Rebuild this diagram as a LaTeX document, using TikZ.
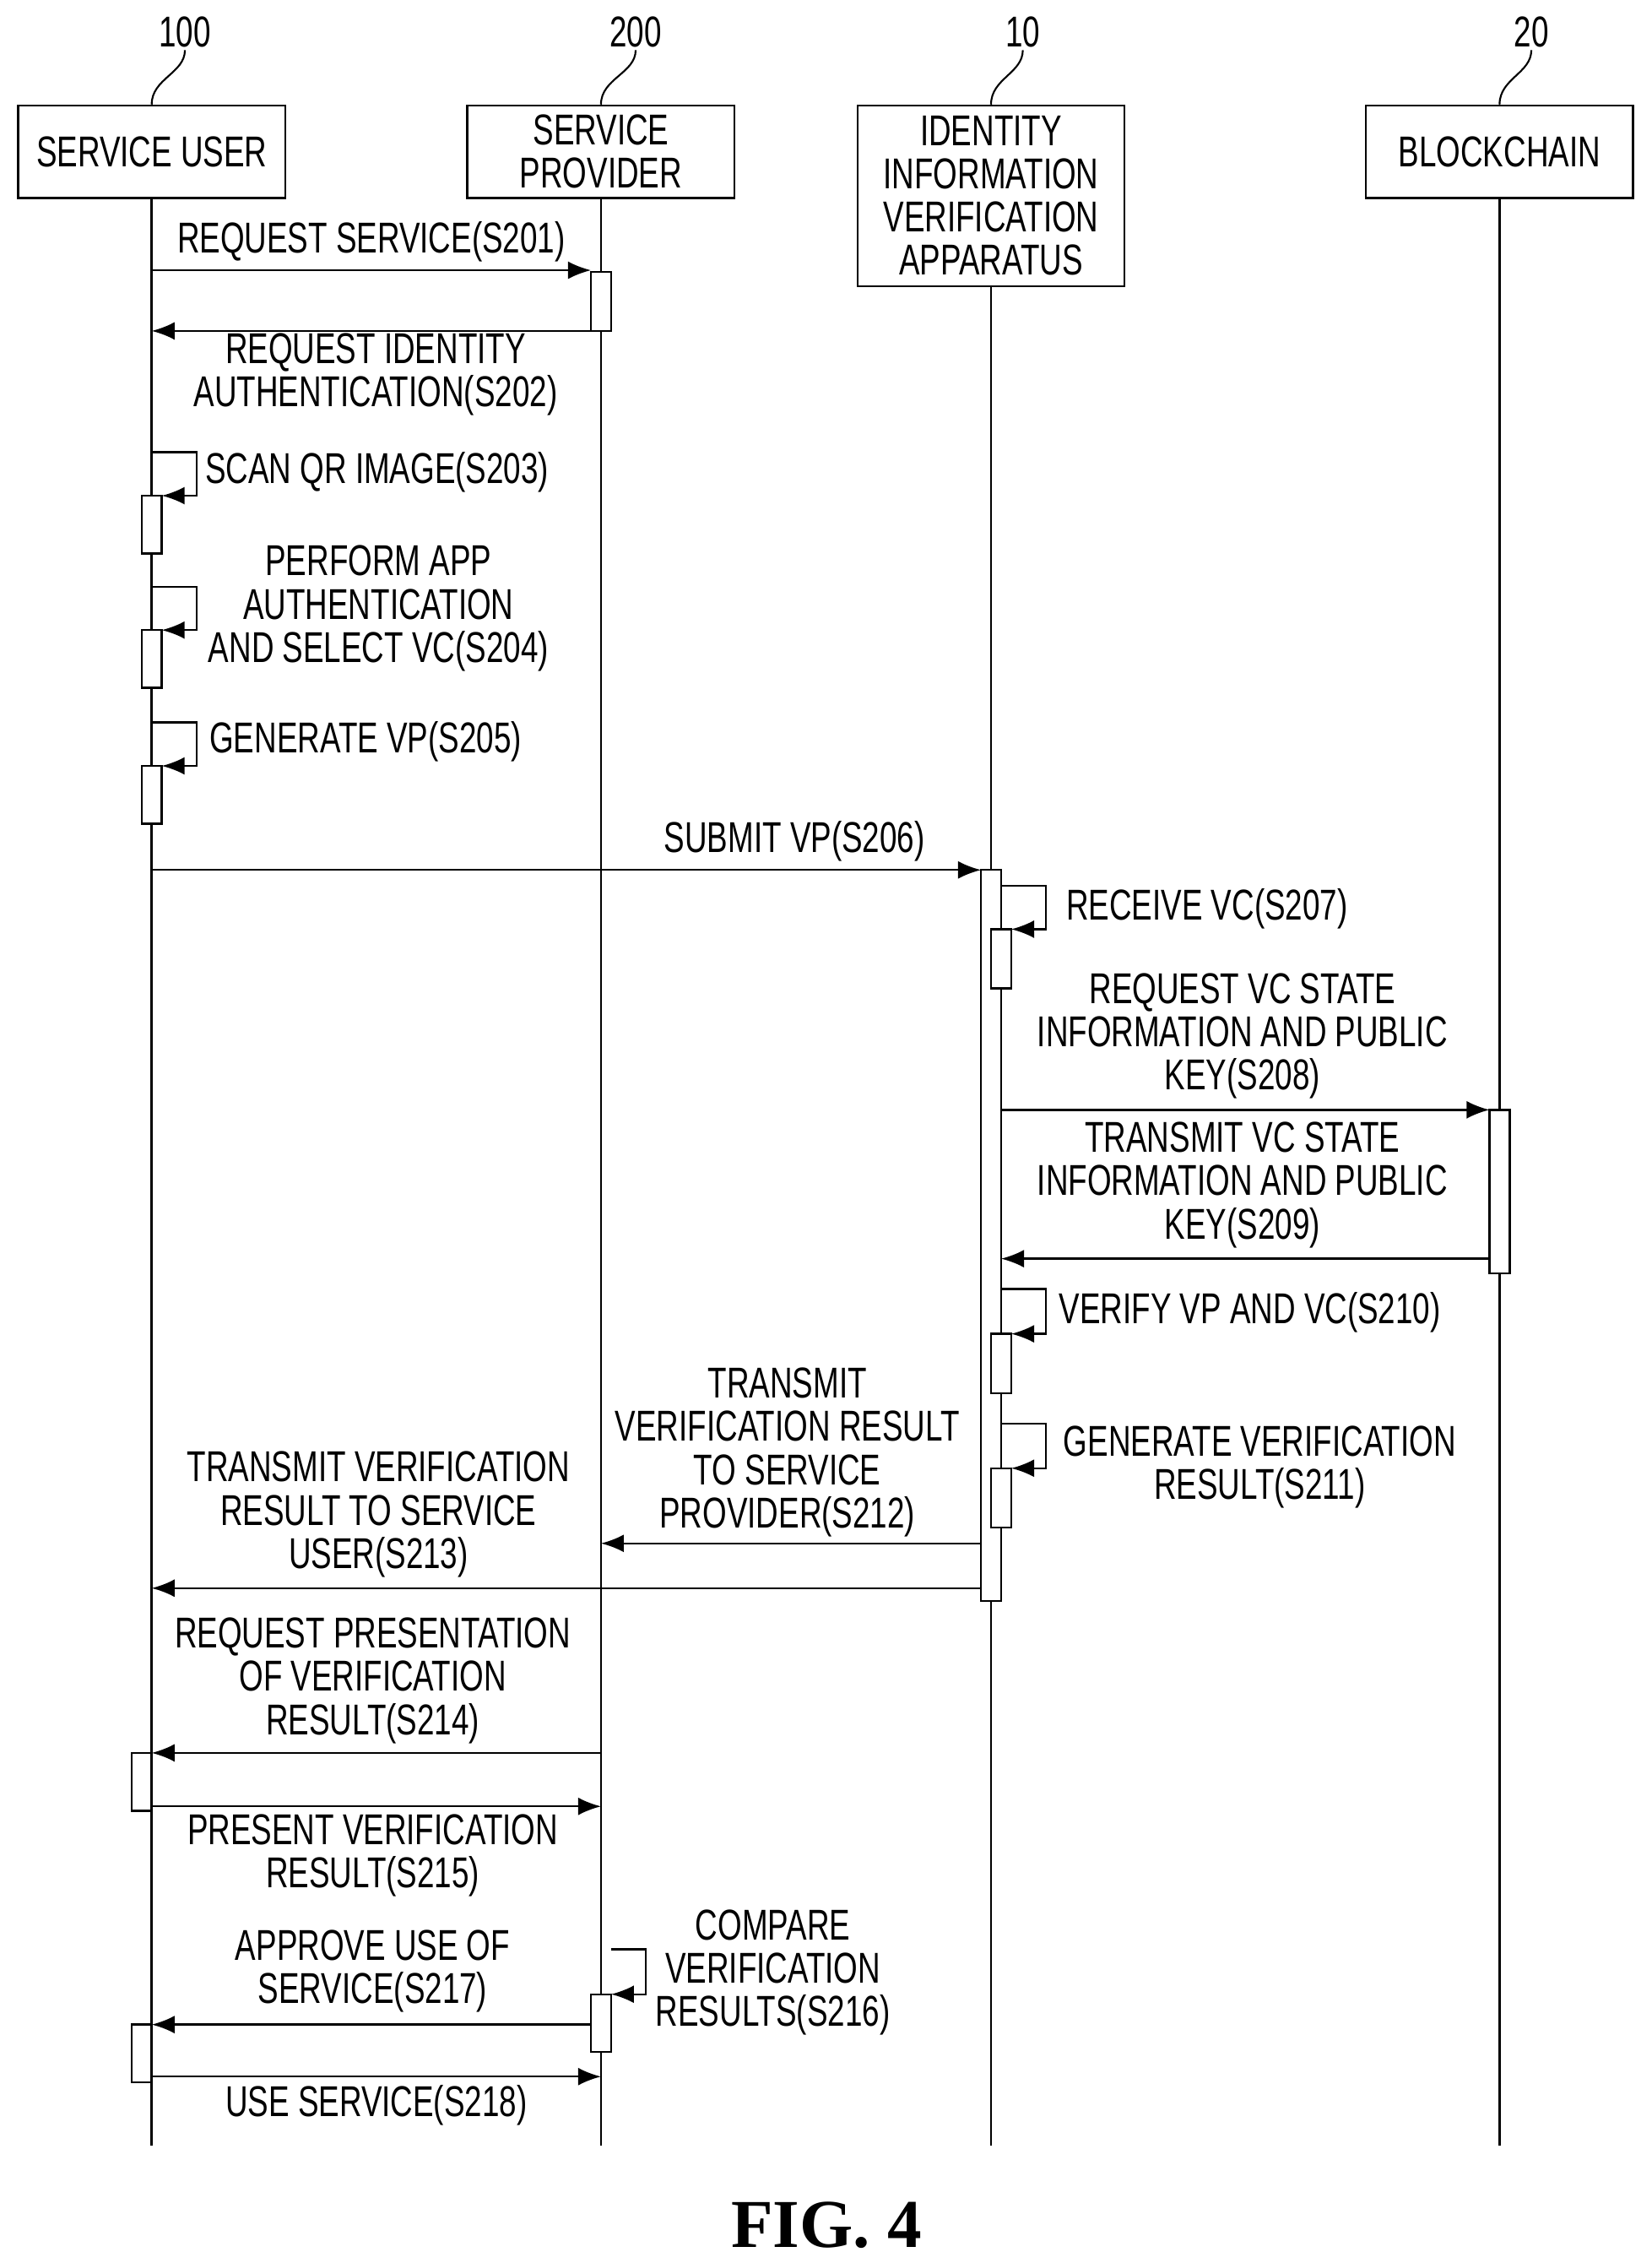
\documentclass[tikz,border=0pt]{standalone}
\usepackage{fontspec}
\setmainfont{Liberation Sans}[FakeStretch=0.72]
\newfontfamily\figfont{Liberation Serif}
\usetikzlibrary{arrows.meta,positioning}
\tikzset{
  actor/.style={draw,line width=0.8pt,minimum width=3.7cm,minimum height=1.28cm,align=center,font=\fontsize{17}{17}\selectfont,inner sep=1pt},
  msg/.style={line width=0.8pt,-{Latex[length=9pt,width=7pt]}},
  lbl/.style={align=center,font=\fontsize{17}{17}\selectfont,inner sep=1pt},
  bar/.style={draw,line width=0.8pt,fill=white},
  life/.style={line width=0.8pt}
}
\begin{document}
\begin{tikzpicture}[x=0.02cm,y=-0.02cm]
    \useasboundingbox (0,0) rectangle (1143,1566);

    %actores
    \node[actor] (u) at (105,105) {SERVICE USER};
    \node[actor] (p) at (416,105) {SERVICE\\PROVIDER};
    \node[actor,minimum height=2.5cm] (a) at (686,135.5) {IDENTITY\\INFORMATION\\VERIFICATION\\APPARATUS};
    \node[actor] (b) at (1038,105) {BLOCKCHAIN};

    %numeros
    \node[lbl] (nu) at (128,22) {100};
    \node[lbl] (np) at (440,22) {200};
    \node[lbl] (na) at (708,22) {10};
    \node[lbl] (nb) at (1060,22) {20};
    \foreach \n/\m in {nu/u,np/p,na/a,nb/b}
        \draw[line width=0.7pt] (\n.south) .. controls ++(0,16) and ++(0,-18) .. (\m.north);

    %lineas de vida
    \foreach \m in {u,p,a,b}{
        \coordinate (\m e) at (\m.south |- 0,1485);
        \draw[life] (\m.south) -- (\m e);
    }

    %barras de activacion
    \draw[bar] (409,188) rectangle (423,229);
    \foreach \y in {343,436,530}
        \draw[bar] (98,\y) rectangle (112,\y+40);
    \draw[bar] (679,602) rectangle (693,1108);
    \foreach \y in {643,923,1016}
        \draw[bar] (686,\y) rectangle (700,\y+41);
    \draw[bar] (1031,768) rectangle (1045,881);
    \draw[bar] (91,1213) rectangle (105,1253);
    \draw[bar] (91,1401) rectangle (105,1441);
    \draw[bar] (409,1380) rectangle (423,1420);

    %mensajes
    \draw[msg] (105,187) -- (409,187) node[lbl,midway,above=2pt] {REQUEST SERVICE(S201)};
    \draw[msg] (409,229) -- (105,229);
    \node[lbl] (s202) at (260,259) {REQUEST IDENTITY\\AUTHENTICATION(S202)};
    \draw[msg] (105,602) -- (679,602) node[lbl,above=2pt] at (550,602) {SUBMIT VP(S206)};
    \draw[msg] (693,768) -- (1031,768);
    \node[lbl] (s208) at (860,717) {REQUEST VC STATE\\INFORMATION AND PUBLIC\\KEY(S208)};
    \draw[msg] (1031,871) -- (693,871);
    \node[lbl] (s209) at (860,820) {TRANSMIT VC STATE\\INFORMATION AND PUBLIC\\KEY(S209)};
    \draw[msg] (679,1068) -- (416,1068);
    \node[lbl] (s212) at (545,1005) {TRANSMIT\\VERIFICATION RESULT\\TO SERVICE\\PROVIDER(S212)};
    \draw[msg] (679,1099) -- (105,1099);
    \node[lbl] (s213) at (262,1048) {TRANSMIT VERIFICATION\\RESULT TO SERVICE\\USER(S213)};
    \draw[msg] (416,1213) -- (105,1213);
    \node[lbl] (s214) at (258,1163) {REQUEST PRESENTATION\\OF VERIFICATION\\RESULT(S214)};
    \draw[msg] (105,1250) -- (416,1250);
    \node[lbl] (s215) at (258,1284) {PRESENT VERIFICATION\\RESULT(S215)};
    \draw[msg] (409,1401) -- (105,1401);
    \node[lbl] (s217) at (258,1364) {APPROVE USE OF\\SERVICE(S217)};
    \draw[msg] (105,1437) -- (416,1437) node[lbl,midway,below=2pt] {USE SERVICE(S218)};

    %mensajes propios
    \draw[msg] (105,313) -- (136,313) -- (136,343) -- (112,343);
    \node[lbl,anchor=west] (s203) at (140,327) {SCAN QR IMAGE(S203)};
    \draw[msg] (105,406) -- (136,406) -- (136,436) -- (112,436);
    \node[lbl] (s204) at (262,421) {PERFORM APP\\AUTHENTICATION\\AND SELECT VC(S204)};
    \draw[msg] (105,500) -- (136,500) -- (136,530) -- (112,530);
    \node[lbl,anchor=west] (s205) at (143,513) {GENERATE VP(S205)};
    \draw[msg] (693,613) -- (724,613) -- (724,643) -- (700,643);
    \node[lbl,anchor=west] (s207) at (736,629) {RECEIVE VC(S207)};
    \draw[msg] (693,892) -- (724,892) -- (724,923) -- (700,923);
    \node[lbl,anchor=west] (s210) at (731,908) {VERIFY VP AND VC(S210)};
    \draw[msg] (693,985) -- (724,985) -- (724,1016) -- (700,1016);
    \node[lbl] (s211) at (872,1015) {GENERATE VERIFICATION\\RESULT(S211)};
    \draw[msg] (423,1349) -- (447,1349) -- (447,1380) -- (423,1380);
    \node[lbl] (s216) at (535,1365) {COMPARE\\VERIFICATION\\RESULTS(S216)};

    \node[font=\figfont\bfseries\fontsize{27}{27}\selectfont] (fig) at (572,1540) {FIG. 4};
\end{tikzpicture}
\end{document}
